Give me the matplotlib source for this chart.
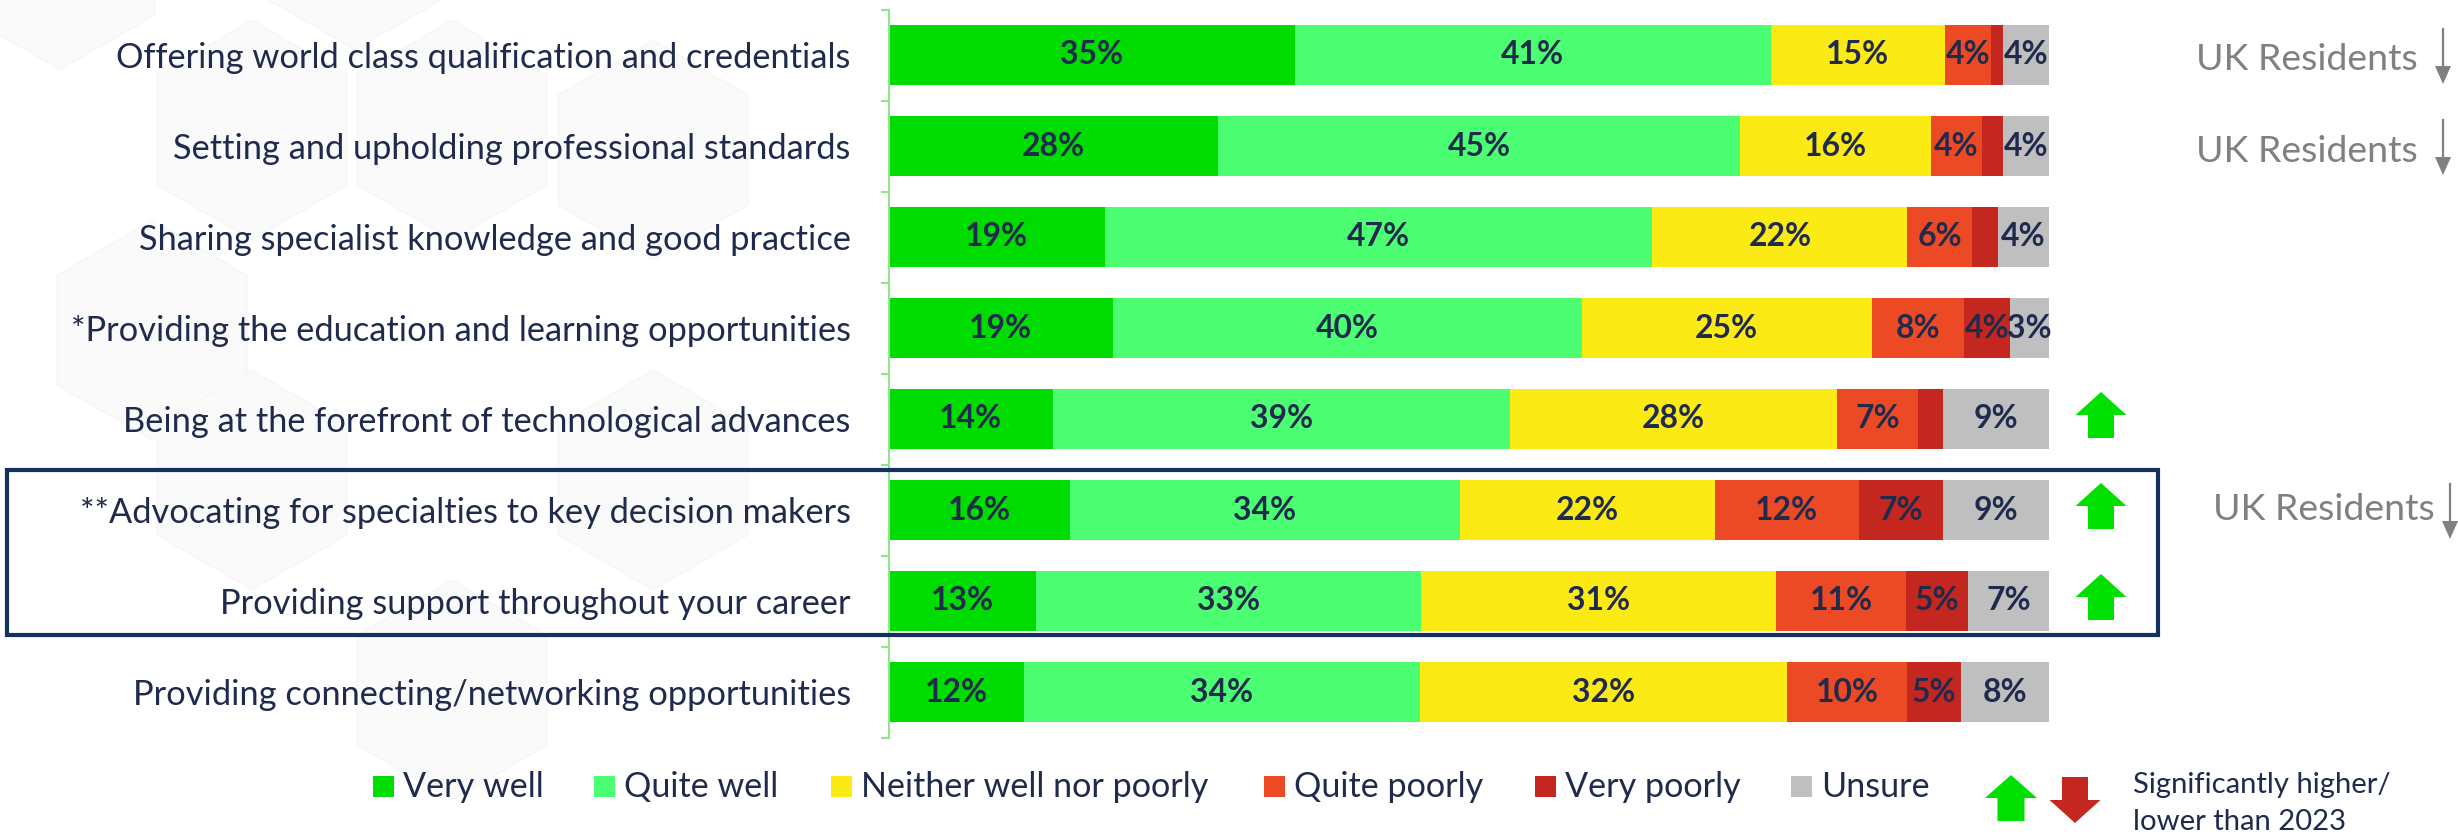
import numpy as np
import matplotlib
matplotlib.use("Agg")
import matplotlib.pyplot as plt
from matplotlib.patches import Polygon, Rectangle
from matplotlib.transforms import IdentityTransform

plt.rcParams['font.family'] = ['Lato', 'DejaVu Sans']

# ---------------- data ----------------
categories = [
    "Offering world class qualification and credentials",
    "Setting and upholding professional standards",
    "Sharing specialist knowledge and good practice",
    "*Providing the education and learning opportunities",
    "Being at the forefront of technological advances",
    "**Advocating for specialties to key decision makers",
    "Providing support throughout your career",
    "Providing connecting/networking opportunities",
]
series_names = ["Very well", "Quite well", "Neither well nor poorly",
                "Quite poorly", "Very poorly", "Unsure"]
very_well    = [35.0, 28.4, 18.6, 19.3, 14.1, 15.6, 12.7, 11.6]
quite_well   = [41.0, 45.0, 47.2, 40.4, 39.4, 33.6, 33.2, 34.2]
neither      = [15.0, 16.4, 22.0, 25.0, 28.2, 22.0, 30.6, 31.6]
quite_poorly = [4.0, 4.4, 5.6, 8.0, 7.0, 12.4, 11.2, 10.4]
very_poorly  = [1.0, 1.8, 2.2, 3.9, 2.2, 7.3, 5.3, 4.6]
unsure       = [4.0, 4.0, 4.4, 3.4, 9.1, 9.1, 7.0, 7.6]
series_values = [very_well, quite_well, neither, quite_poorly, very_poorly, unsure]
sig_higher_rows = [4, 5, 6]          # green up arrows
uk_lower_rows = [0, 1, 5]            # "UK Residents" lower
legend_note = ["Significantly higher/", "lower than 2023"]

# ---------------- style ----------------
colors = ["#00DC00", "#4CFF72", "#FCEA14", "#EC4A24", "#C4271F", "#BFBFBF"]
navy = "#1F2A4D"
gray = "#808080"
axis_green = "#8EE68E"
W, H = 2458, 834

fig = plt.figure(figsize=(W / 100, H / 100), dpi=100)
renderer = fig.canvas.get_renderer()


def fit(text, target, **kw):
    t = fig.text(0, 0, text, fontsize=20, **kw)
    w = t.get_window_extent(renderer).width
    t.remove()
    return 20 * target / w


def px(x, y_top):
    """pixel (top-left origin) -> display coords"""
    return x, H - y_top


# faint hexagon watermark background
def hexagon(cx, cy, w):
    r = w / np.sqrt(3)
    pts = [(cx, cy - r), (cx + w / 2, cy - r / 2), (cx + w / 2, cy + r / 2),
           (cx, cy + r), (cx - w / 2, cy + r / 2), (cx - w / 2, cy - r / 2)]
    return [px(a, b) for a, b in pts]


for cx, cy in [(252, 130), (452, 130), (653, 150), (152, 330), (355, -60),
               (252, 480), (653, 480), (452, 690), (60, -40)]:
    fig.add_artist(Polygon(hexagon(cx, cy, 190), closed=True, facecolor="#FAFAFA",
                           edgecolor="#F6F6F6", linewidth=1.0,
                           transform=IdentityTransform(), zorder=-10))

# ---------------- axes ----------------
ax = fig.add_axes([889 / W, 1 - 737.5 / H, 1160 / W, 728 / H])
ax.set_facecolor("none")
y = np.arange(len(categories))
ax.set_xlim(0, 100)
ax.set_ylim(len(categories) - 0.5, -0.5)

bar_fs = fit("22%", 63, fontweight="bold")
left = np.zeros(len(categories))
for vals, col in zip(series_values, colors):
    vals = np.array(vals)
    ax.barh(y, vals, left=left, height=0.66, color=col, edgecolor="none", zorder=2)
    for yi, (l, v) in enumerate(zip(left, vals)):
        if v >= 3:
            ax.text(l + v / 2, yi, f"{v:.0f}%", ha="center", va="center",
                    fontsize=bar_fs, fontweight="bold", color=navy, zorder=3)
    left = left + vals

for s in ["top", "right", "bottom"]:
    ax.spines[s].set_visible(False)
ax.spines["left"].set_color(axis_green)
ax.spines["left"].set_linewidth(1.5)
ax.set_xticks([])
cat_fs = fit(categories[0], 736)
ax.set_yticks(y, labels=categories, fontsize=cat_fs, color=navy)
ax.tick_params(axis="y", which="major", length=0, pad=27.5)
ax.set_yticks(np.arange(-0.5, len(categories), 1.0), minor=True)
ax.tick_params(axis="y", which="minor", length=6, width=1.5, color=axis_green)

fig.canvas.draw()


def row_px(xdata, row):
    return ax.transData.transform((xdata, row))


def up_arrow(cx, cy, w=51, h=46, hh=23, sw=26):
    return [(cx, cy + h / 2), (cx + w / 2, cy + h / 2 - hh), (cx + sw / 2, cy + h / 2 - hh),
            (cx + sw / 2, cy - h / 2), (cx - sw / 2, cy - h / 2), (cx - sw / 2, cy + h / 2 - hh),
            (cx - w / 2, cy + h / 2 - hh)]


def down_arrow(cx, cy, w=51, h=46, hh=23, sw=26):
    return [(a, 2 * cy - b) for a, b in up_arrow(cx, cy, w, h, hh, sw)]


# green "significantly higher" arrows
x_arrow_data = (2101 - 889) / 1160 * 100
for r in sig_higher_rows:
    cx, cy = row_px(x_arrow_data, r)
    fig.add_artist(Polygon(up_arrow(cx, cy + 4), closed=True, facecolor="#00E000",
                           edgecolor="none", transform=IdentityTransform()))

# UK Residents lower annotations
uk_fs = fit("UK Residents", 222)
for r in uk_lower_rows:
    if r == 5:
        text_right, arrow_x, dy = 2435, 2450, 1
    else:
        text_right, arrow_x, dy = 2418, 2443, -5
    _, cy = row_px(0, r)
    fig.text(text_right / W, (cy + dy) / H, "UK Residents", ha="right", va="center",
             fontsize=uk_fs, color=gray)
    top, bot = cy + 26, cy - 29
    fig.add_artist(plt.Line2D([arrow_x, arrow_x], [top, bot + 15], color=gray, lw=1.6,
                              transform=IdentityTransform()))
    fig.add_artist(Polygon([(arrow_x - 8, bot + 18), (arrow_x + 8, bot + 18), (arrow_x, bot)],
                           closed=True, facecolor=gray, edgecolor="none",
                           transform=IdentityTransform()))

# highlight rectangle around rows 5-6
x0, y0 = px(7, 635)
fig.add_artist(Rectangle((x0, y0), 2158 - 7, 635 - 470, fill=False, edgecolor="#13305F",
                         linewidth=3.0, transform=IdentityTransform(), zorder=5))

# ---------------- legend ----------------
leg_fs = fit("Quite poorly", 190)
sq_x = [373, 594, 831, 1264, 1535, 1791]
for name, col, sx in zip(series_names, colors, sq_x):
    bx, by = px(sx, 797)
    fig.add_artist(Rectangle((bx, by), 21, 21, facecolor=col, edgecolor="none",
                             transform=IdentityTransform()))
    fig.text((sx + 30) / W, 1 - 787 / H, name, ha="left", va="center",
             fontsize=leg_fs, color=navy)

gx, gy = px(2011, 798)
fig.add_artist(Polygon(up_arrow(gx, gy, w=52, sw=27), closed=True, facecolor="#00E000",
                       edgecolor="none", transform=IdentityTransform()))
rx, ry = px(2075, 800)
fig.add_artist(Polygon(down_arrow(rx, ry), closed=True, facecolor="#C4271F",
                       edgecolor="none", transform=IdentityTransform()))
note_fs = fit(legend_note[0], 258)
fig.text(2133 / W, 1 - 793 / H, legend_note[0], ha="left", va="baseline",
         fontsize=note_fs, color=navy)
fig.text(2133 / W, 1 - 830 / H, legend_note[1], ha="left", va="baseline",
         fontsize=note_fs, color=navy)

fig.savefig("out.png", dpi=100, facecolor="white")
